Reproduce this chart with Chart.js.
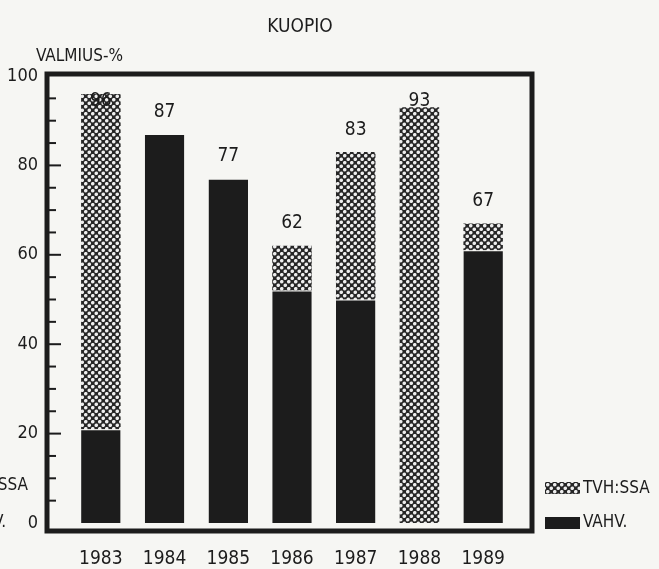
<!DOCTYPE html>
<html>
<head>
<meta charset="utf-8">
<script src="https://cdn.jsdelivr.net/npm/chart.js@4.4.1/dist/chart.umd.min.js"></script>
<style>
  html, body { margin: 0; padding: 0; background: #f6f6f3; }
  #wrap { width: 659px; height: 569px; }
</style>
</head>
<body>
<div id="wrap"><canvas id="chart" width="659" height="569"></canvas></div>
<script>
var years = ["1983", "1984", "1985", "1986", "1987", "1988", "1989"];
var vahv = [21, 87, 77, 52, 50, 0, 61];     // tumma osa
var tvhSsa = [75, 0, 0, 10, 33, 93, 6];     // ruudutettu osa
var totals = [96, 87, 77, 62, 83, 93, 67];
var yTicks = [0, 20, 40, 60, 80, 100];

var FONT = "'DejaVu Sans Condensed', 'DejaVu Sans', sans-serif";
var INK = "#1c1c1c";

function makeHatch() {
    var c = document.createElement("canvas");
    c.width = 7;
    c.height = 7;
    var g = c.getContext("2d");
    g.fillStyle = "#262626";
    g.fillRect(0, 0, 7, 7);
    g.fillStyle = "#eeeeee";
    [[1.75, 1.75], [5.25, 5.25]].forEach(function (p) {
        g.beginPath();
        g.arc(p[0], p[1], 1.8, 0, Math.PI * 2);
        g.fill();
    });
    return g.createPattern(c, "repeat");
}
var hatch = makeHatch();

// kehys, tikit, otsikot, arvot ja selite
var decor = {
    id: "decor",
    afterDatasetsDraw: function (chart) {
        var ctx = chart.ctx;
        var a = chart.chartArea;
        var ys = chart.scales.y;
        var xs = chart.scales.x;
        var L = a.left - 22, R = a.right + 17, T = a.top - 2, B = a.bottom + 8;
        ctx.save();
        ctx.strokeStyle = INK;
        ctx.lineWidth = 5;
        ctx.strokeRect(L, T, R - L, B - T);

        ctx.lineWidth = 2;
        for (var v = 5; v < 100; v += 5) {
            var py = ys.getPixelForValue(v);
            ctx.beginPath();
            ctx.moveTo(L, py);
            ctx.lineTo(L + (v % 20 === 0 ? 14 : 9), py);
            ctx.stroke();
        }

        ctx.fillStyle = INK;
        ctx.textBaseline = "middle";
        ctx.textAlign = "center";
        ctx.font = "19px " + FONT;
        ctx.fillText("KUOPIO", 300, 27);
        ctx.textAlign = "left";
        ctx.font = "17px " + FONT;
        ctx.fillText("VALMIUS-%", 36, 57);

        ctx.textAlign = "center";
        ctx.font = "19px " + FONT;
        totals.forEach(function (t, i) {
            var v = Math.min(t + 5, 94.5);
            ctx.fillText(String(t), xs.getPixelForValue(i), ys.getPixelForValue(v));
        });

        // selite oikealla
        var lx = R + 13;
        ctx.font = "17px " + FONT;
        ctx.textAlign = "left";
        ctx.fillStyle = hatch;
        ctx.fillRect(lx, 482, 35, 12);
        ctx.fillStyle = INK;
        ctx.fillText("TVH:SSA", lx + 38, 489);
        ctx.fillRect(lx, 517, 35, 12);
        ctx.fillText("VAHV.", lx + 38, 523);

        // edellisen kuvan selite, leikkautunut vasempaan reunaan
        ctx.textAlign = "right";
        ctx.fillText("TVH:SSA", 28, 486);
        ctx.fillText("VAHV.", 6, 523);
        ctx.restore();
    }
};

new Chart(document.getElementById("chart"), {
    type: "bar",
    data: {
        labels: years,
        datasets: [{
            label: "VAHV.",
            data: vahv,
            backgroundColor: INK,
            borderColor: "#f6f6f3",
            borderWidth: { top: 1, left: 0, right: 0, bottom: 0 },
            borderSkipped: false,
            barPercentage: 0.62,
            categoryPercentage: 1
        }, {
            label: "TVH:SSA",
            data: tvhSsa,
            backgroundColor: hatch,
            borderWidth: 0,
            barPercentage: 0.62,
            categoryPercentage: 1
        }]
    },
    options: {
        responsive: false,
        animation: false,
        layout: { padding: { top: 76, right: 144, left: 0, bottom: 0 } },
        plugins: {
            legend: { display: false },
            tooltip: { enabled: false },
            title: { display: false }
        },
        scales: {
            x: {
                stacked: true,
                grid: { display: false, drawTicks: false },
                border: { display: false },
                ticks: { color: INK, font: { family: FONT, size: 19 }, padding: 25 },
                afterFit: function (s) { s.height = 46; }
            },
            y: {
                stacked: true,
                min: 0,
                max: 100,
                grid: { display: false, drawTicks: false },
                border: { display: false },
                afterBuildTicks: function (s) {
                    s.ticks = yTicks.map(function (v) { return { value: v }; });
                },
                ticks: { color: INK, font: { family: FONT, size: 18 }, padding: 31 },
                afterFit: function (s) { s.width = 69; }
            }
        }
    },
    plugins: [decor]
});
</script>
</body>
</html>
